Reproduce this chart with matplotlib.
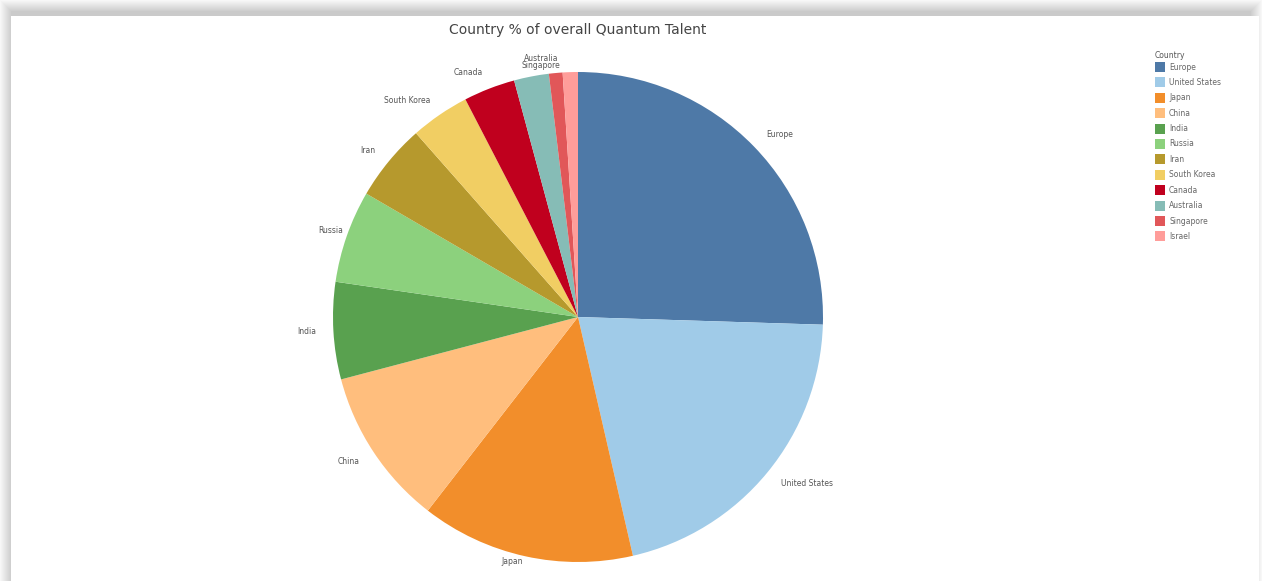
import matplotlib.pyplot as plt
from matplotlib.patches import Rectangle
import numpy as np

# share of overall quantum talent (%)
countries = ['Europe', 'United States', 'Japan', 'China', 'India', 'Russia',
             'Iran', 'South Korea', 'Canada', 'Australia', 'Singapore', 'Israel']
shares = [25.5, 20.9, 14.1, 10.4, 6.4, 6.1, 5.1, 3.9, 3.4, 2.3, 0.9, 1.0]
colors = ['#4e79a7', '#a0cbe8', '#f28e2b', '#ffbe7d', '#59a14f', '#8cd17d',
          '#b6992d', '#f1ce63', '#c0001e', '#86bcb6', '#e15759', '#ff9d9a']

W, H = 1262, 581
fig = plt.figure(figsize=(W / 100, H / 100), dpi=100)
fig.patch.set_facecolor('white')

# soft shadow frame around the white card (darker close to the card)
for i in range(12):
    g = 0.97 - 0.016 * i
    fig.add_artist(Rectangle((i / W, 0), 1 - 2 * i / W, 1 - i / H,
                             transform=fig.transFigure, facecolor=(g, g, g),
                             edgecolor='none', zorder=-10 + i * 0.01))
fig.add_artist(Rectangle((11 / W, 0), (1259 - 11) / W, (H - 16) / H,
                         transform=fig.transFigure, facecolor='white',
                         edgecolor='none', zorder=-9))

cx, cy, r = 578, 317, 245
ax = fig.add_axes([(cx - r) / W, (H - cy - r) / H, 2 * r / W, 2 * r / H])
wedges, _ = ax.pie(shares, colors=colors, startangle=90, counterclock=False,
                   radius=1, wedgeprops=dict(linewidth=0))
ax.set_xlim(-1, 1)
ax.set_ylim(-1, 1)
ax.set_aspect('equal')
ax.axis('off')

# labels outside the slices
for w, name in zip(wedges, countries):
    if name == 'Israel':
        continue
    mid = np.radians((w.theta1 + w.theta2) / 2)
    d = 1.07
    x, y = d * np.cos(mid), d * np.sin(mid)
    ha = 'left' if x > 0.05 else ('right' if x < -0.05 else 'center')
    if name == 'Australia':
        x, y, ha = -0.15, 1.055, 'center'
    if name == 'Singapore':
        x, y, ha = -0.15, 1.025, 'center'
    if name == 'Japan':
        x, y, ha = -0.27, -1.0, 'center'
    if name == 'Russia':
        x += 0.05
    ax.text(x, y, name, ha=ha, va='center', fontsize=5.5, color='#555555',
            clip_on=False)

fig.text(cx / W, 1 - 30 / H, 'Country % of overall Quantum Talent',
         ha='center', va='center', fontsize=10, color='#444444')

# legend
lx, ly0, step = 1155, 67, 15.4
fig.text(lx / W, 1 - 55 / H, 'Country', fontsize=5.5, color='#555555',
         va='center', ha='left')
for i, (name, c) in enumerate(zip(countries, colors)):
    y = ly0 + i * step
    fig.add_artist(Rectangle((lx / W, 1 - (y + 5) / H), 10 / W, 10 / H,
                             transform=fig.transFigure, facecolor=c,
                             edgecolor='none'))
    fig.text((lx + 14) / W, 1 - y / H, name, fontsize=5.5, color='#666666',
             va='center', ha='left')

fig.savefig('out.png', dpi=100)
